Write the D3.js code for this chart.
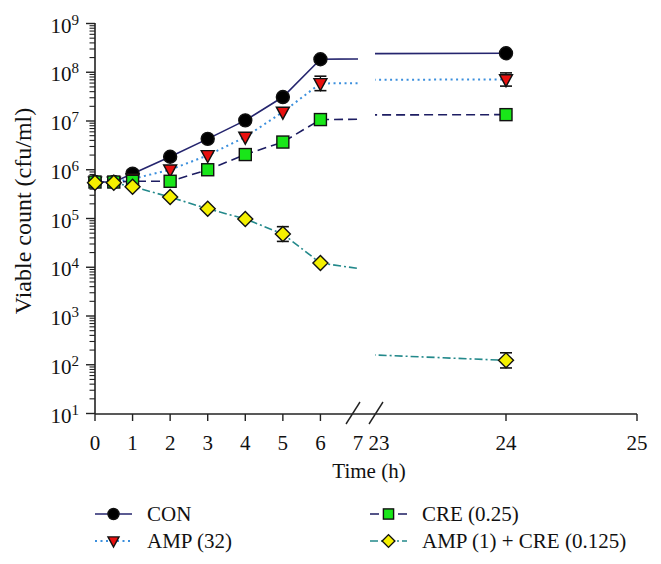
<!DOCTYPE html>
<html><head><meta charset="utf-8">
<script src="https://cdn.jsdelivr.net/npm/d3@7"></script>
<style>body{margin:0;background:#fff}svg{display:block}</style>
</head><body>
<svg id="c" width="661" height="564" style="font-family:'Liberation Serif','Times New Roman',serif"></svg>
<script>
// ---- data ----
const times = [0, 0.5, 1, 2, 3, 4, 5, 6, 24];
const conVals   = [5.6e5, 5.6e5, 8.3e5, 1.85e6, 4.3e6, 1.03e7, 3.1e7, 1.85e8, 2.45e8];
const ampVals   = [5.6e5, 5.6e5, 6.5e5, 1.0e6, 1.97e6, 4.7e6, 1.53e7, 5.9e7, 7.1e7];
const creVals   = [5.6e5, 5.6e5, 5.8e5, 5.8e5, 1.0e6, 2.05e6, 3.7e6, 1.07e7, 1.35e7];
const comboVals = [5.4e5, 5.4e5, 4.5e5, 2.75e5, 1.58e5, 9.8e4, 4.8e4, 1.22e4, 123];
const conErr    = [0, 0, 1.5e5, 0, 0, 1.2e6, 0, 0, 0];
const ampErr    = [0, 0, 0, 0, 0, 0, 0, 2.4e7, 2.6e7];
const creErr    = [0, 0, 0, 0, 0, 0, 0, 0, 0];
const comboErr  = [0, 0, 0, 0, 0, 0, 2.0e4, 0, 53];
const seriesNames = ["CON", "AMP (32)", "CRE (0.25)", "AMP (1) + CRE (0.125)"];
const xTicksLeft = [0, 1, 2, 3, 4, 5, 6, 7];
const xTicksRight = [23, 24, 25];
const yTickExps = [1, 2, 3, 4, 5, 6, 7, 8, 9];

const series = [
  {name: seriesNames[0], vals: conVals, err: conErr, color: "#25256e", dash: null, width: 1.6, sym: "circle", fill: "#000"},
  {name: seriesNames[1], vals: ampVals, err: ampErr, color: "#3b8fdd", dash: "2,3.5", width: 2, sym: "tri", fill: "#e8100f"},
  {name: seriesNames[2], vals: creVals, err: creErr, color: "#1d1d62", dash: "9,5", width: 1.6, sym: "square", fill: "#19e619"},
  {name: seriesNames[3], vals: comboVals, err: comboErr, color: "#23898b", dash: "8,3,2,3", width: 1.6, sym: "diamond", fill: "#f4f000"}
];

const FONT = "'Liberation Serif','Times New Roman',serif";
const svg = d3.select("#c");
const y = d3.scaleLog().domain([10, 1e9]).range([413.5, 23.5]);
const xL = d3.scaleLinear().domain([0, 7]).range([95, 358]);
const xR = d3.scaleLinear().domain([23, 25]).range([375, 637]);
const xOf = t => t <= 7 ? xL(t) : xR(t);
const axisY = 414, axisX = 95;
const txt = (g) => g.append("text").style("font-family", FONT).style("fill", "#111");

const defs = svg.append("defs");
defs.append("clipPath").attr("id", "clipL").append("rect").attr("x", 0).attr("y", 0).attr("width", 358).attr("height", 430);
defs.append("clipPath").attr("id", "clipR").append("rect").attr("x", 375).attr("y", 0).attr("width", 290).attr("height", 430);

// ---- y axis ----
const gy = svg.append("g");
gy.append("line").attr("x1", axisX).attr("x2", axisX).attr("y1", y(1e9) - 0.5).attr("y2", axisY).attr("stroke", "#222").attr("stroke-width", 1.6);
yTickExps.forEach(e => {
  const v = Math.pow(10, e);
  gy.append("line").attr("x1", axisX - 9).attr("x2", axisX).attr("y1", y(v)).attr("y2", y(v)).attr("stroke", "#222").attr("stroke-width", 1.4);
  if (e < 9) for (let m = 2; m <= 9; m++) {
    const mv = m * v;
    gy.append("line").attr("x1", axisX - 5.5).attr("x2", axisX).attr("y1", y(mv)).attr("y2", y(mv)).attr("stroke", "#222").attr("stroke-width", 1.1);
  }
  const t = txt(gy).attr("x", 79).attr("y", y(v) + 9).attr("text-anchor", "end").style("font-size", "21px");
  t.append("tspan").text("10");
  t.append("tspan").attr("dy", -8).style("font-size", "15px").text(String(e));
});
txt(svg).attr("transform", "translate(31,211) rotate(-90)").attr("text-anchor", "middle").style("font-size", "24px").text("Viable count (cfu/ml)");

// ---- x axis ----
const gx = svg.append("g");
gx.append("line").attr("x1", axisX).attr("x2", xR(25)).attr("y1", axisY).attr("y2", axisY).attr("stroke", "#222").attr("stroke-width", 1.6);
xTicksLeft.forEach(t => {
  if (t < 7) gx.append("line").attr("x1", xL(t)).attr("x2", xL(t)).attr("y1", axisY).attr("y2", axisY + 7).attr("stroke", "#222").attr("stroke-width", 1.4);
  txt(gx).attr("x", xL(t)).attr("y", axisY + 36).attr("text-anchor", "middle").style("font-size", "21px").text(t);
});
xTicksRight.forEach(t => {
  if (t > 23) gx.append("line").attr("x1", xR(t)).attr("x2", xR(t)).attr("y1", axisY).attr("y2", axisY + 7).attr("stroke", "#222").attr("stroke-width", 1.4);
  txt(gx).attr("x", xR(t) + (t === 23 ? 4 : 0)).attr("y", axisY + 36).attr("text-anchor", "middle").style("font-size", "21px").text(t);
});
// break marks
[353, 376].forEach(cx => {
  gx.append("line").attr("x1", cx - 7).attr("y1", axisY + 10).attr("x2", cx + 7).attr("y2", axisY - 12).attr("stroke", "#222").attr("stroke-width", 1.4);
});
txt(svg).attr("x", 369).attr("y", 478).attr("text-anchor", "middle").style("font-size", "21px").text("Time (h)");

// ---- symbols ----
function drawSym(g, s, cx, cy, scale) {
  const k = scale || 1;
  let el;
  if (s.sym === "circle") {
    el = g.append("circle").attr("cx", cx).attr("cy", cy).attr("r", 6.5 * k);
  } else if (s.sym === "tri") {
    const w = 6.5 * k, h = 6 * k;
    el = g.append("path").attr("d", `M${cx - w},${cy - h * 0.8}L${cx + w},${cy - h * 0.8}L${cx},${cy + h * 1.2}Z`);
  } else if (s.sym === "square") {
    const a = 6 * k;
    el = g.append("rect").attr("x", cx - a).attr("y", cy - a).attr("width", 2 * a).attr("height", 2 * a);
  } else {
    const d = 7.5 * k;
    el = g.append("path").attr("d", `M${cx},${cy - d}L${cx + d},${cy}L${cx},${cy + d}L${cx - d},${cy}Z`);
  }
  el.attr("fill", s.fill).attr("stroke", "#111").attr("stroke-width", 1.4);
}

// ---- lines ----
series.forEach(s => {
  const pts = times.map((t, i) => [t, s.vals[i]]);
  [[xL, "clipL"], [xR, "clipR"]].forEach(([sx, clip]) => {
    const line = d3.line().x(d => sx(d[0])).y(d => y(d[1]));
    svg.append("path").attr("d", line(pts)).attr("clip-path", `url(#${clip})`)
      .attr("fill", "none").attr("stroke", s.color).attr("stroke-width", s.width)
      .attr("stroke-dasharray", s.dash);
  });
});

// ---- error bars + markers ----
series.forEach(s => {
  const g = svg.append("g");
  times.forEach((t, i) => {
    const cx = xOf(t), v = s.vals[i], e = s.err[i];
    if (e > 0) {
      const top = y(v + e), bot = 2 * y(v) - top;
      g.append("line").attr("x1", cx).attr("x2", cx).attr("y1", top).attr("y2", bot).attr("stroke", "#111").attr("stroke-width", 1.3);
      [top, bot].forEach(yy => g.append("line").attr("x1", cx - 6).attr("x2", cx + 6).attr("y1", yy).attr("y2", yy).attr("stroke", "#111").attr("stroke-width", 1.6));
    }
  });
  times.forEach((t, i) => drawSym(g, s, xOf(t), y(s.vals[i])));
});

// ---- legend ----
const legPos = [[95, 514], [95, 541], [370, 514], [370, 541]];
series.forEach((s, i) => {
  const [lx, ly] = legPos[i];
  const g = svg.append("g");
  g.append("line").attr("x1", lx).attr("x2", lx + 37).attr("y1", ly).attr("y2", ly)
    .attr("stroke", s.color).attr("stroke-width", s.width).attr("stroke-dasharray", s.dash);
  drawSym(g, s, lx + 18.5, ly, 0.85);
  txt(g).attr("x", lx + 52).attr("y", ly + 7).style("font-size", "21px").text(s.name);
});
</script>
</body></html>
